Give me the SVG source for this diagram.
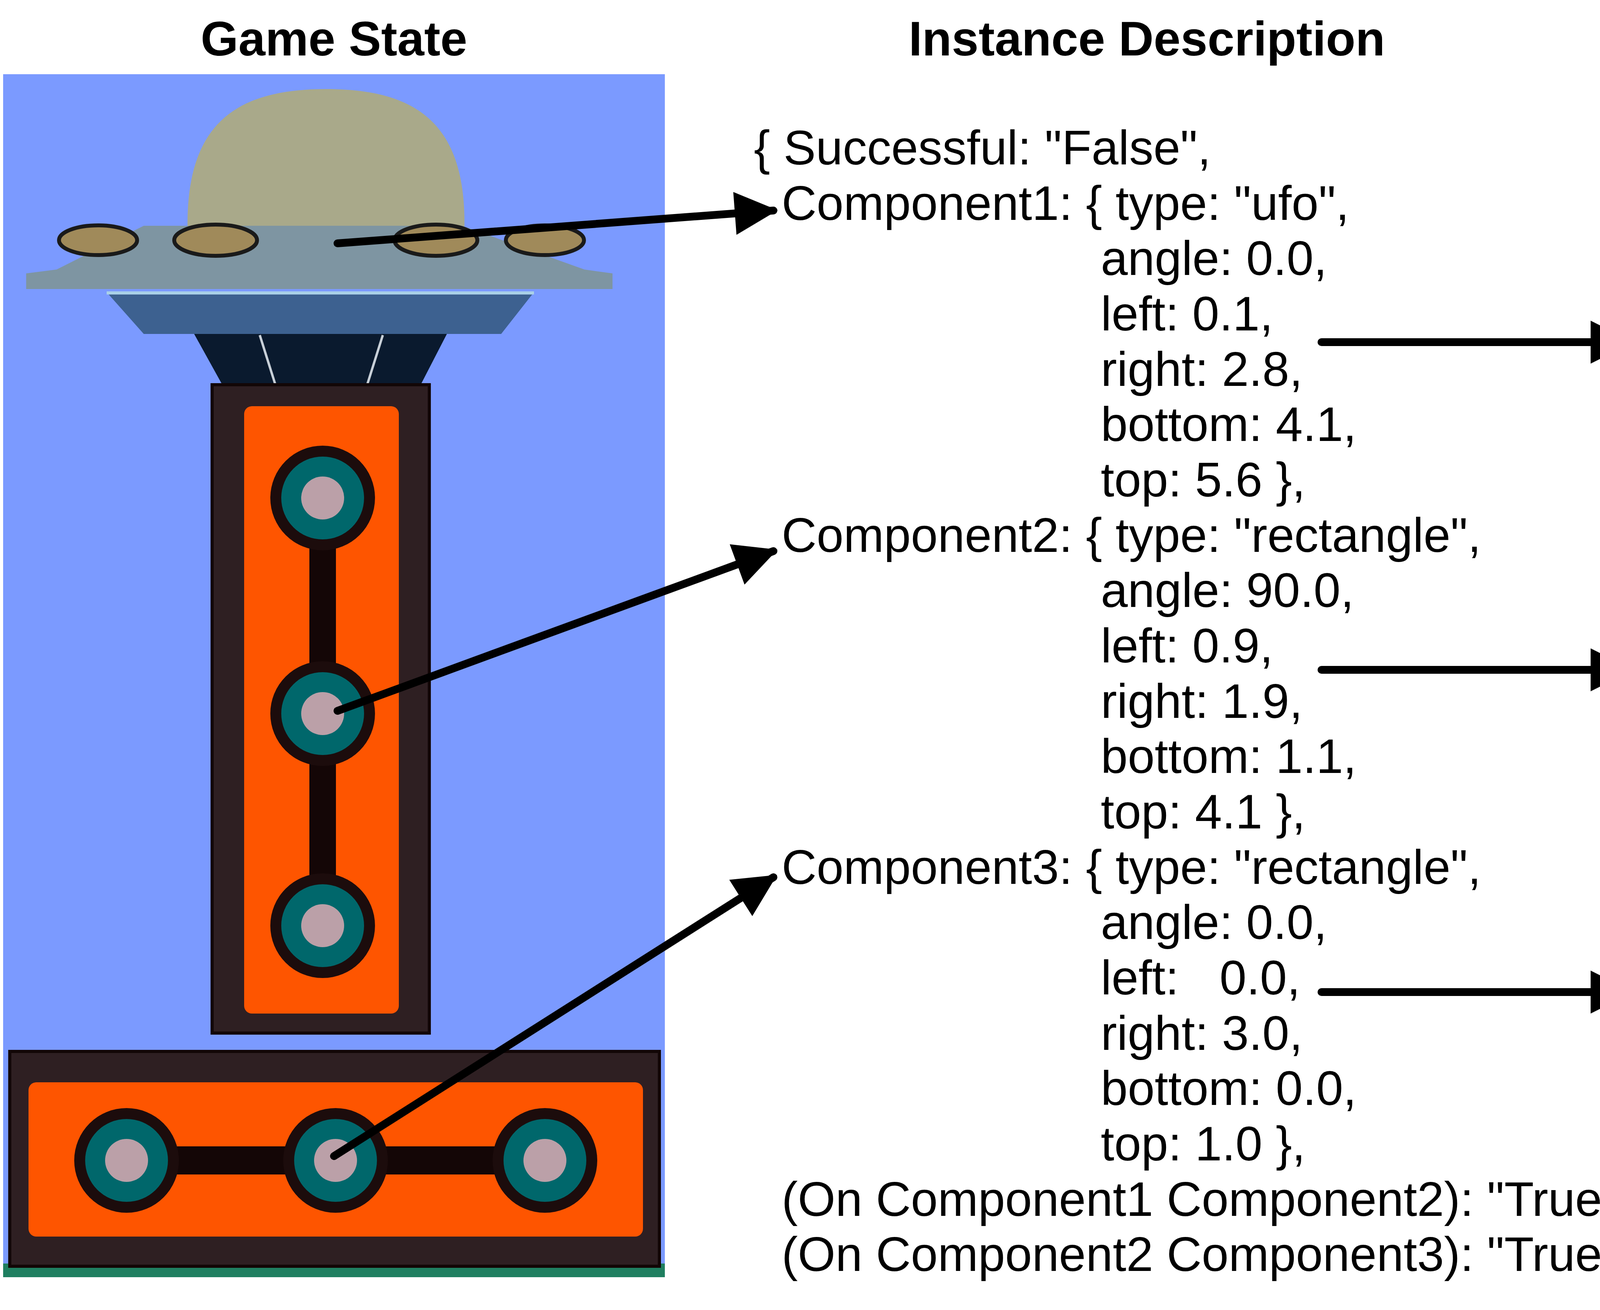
<svg xmlns="http://www.w3.org/2000/svg" width="6604" height="3354" viewBox="0 0 6604 3354">
<style>
.t{font-family:"Liberation Sans",Arial,sans-serif;font-size:124px;fill:#000;white-space:pre}
.h{font-family:"Liberation Sans",Arial,sans-serif;font-size:124px;font-weight:bold;fill:#000;text-anchor:middle}
.frame{fill:#2e1f22;stroke:#120606;stroke-width:8}
.or{fill:#fe5500}
.bar{fill:#140606}
.co{fill:#1c0c0c}
.ci{fill:#00676b}
.pk{fill:#dcaab3;opacity:0.85}
.ln{stroke:#000;stroke-width:20;stroke-linecap:round;fill:none}
.br{stroke:#000;stroke-width:14;fill:none}
</style>
<defs>
<marker id="ah" viewBox="0 0 10 10" refX="9" refY="5" markerWidth="7.5" markerHeight="5.5" markerUnits="strokeWidth" orient="auto"><path d="M0,0 L10,5 L0,10 Z" fill="#000"/></marker>
<g id="circ"><circle r="134" class="co"/><circle r="106" class="ci"/><circle r="55" class="pk"/></g>
</defs>
<rect width="6604" height="3354" fill="#fff"/>
<text class="h" x="855" y="142">Game State</text>
<text class="h" x="2936" y="142">Instance Description</text>
<text class="h" x="5384" y="142">Concept Description</text>

<g id="game-state">
<rect x="8" y="190" width="1694" height="3045" fill="#7b9aff"/>
<rect x="8" y="3235" width="1694" height="35" fill="#1f7f60"/>
<path d="M480,580 C478,320 600,228 835,228 C1070,228 1192,320 1189,580 Z" fill="#a9a98a"/>
<polygon points="368,578 1183,578 1496,690 1568,700 1568,740 67,740 67,700 145,690" fill="#7e95a2"/>
<g fill="#a08a5a" stroke="#1a1a1a" stroke-width="10">
<ellipse cx="251" cy="615" rx="100" ry="38"/><ellipse cx="552" cy="615" rx="106" ry="40"/><ellipse cx="1116" cy="615" rx="106" ry="40"/><ellipse cx="1395" cy="615" rx="100" ry="38"/>
</g>
<polygon points="273,748 1367,748 1283,855 368,855" fill="#3d6190"/>
<line x1="273" y1="750" x2="1367" y2="750" stroke="#a9d0e8" stroke-width="8"/>
<polygon points="497,855 1144,855 1077,985 569,985" fill="#0a1a2e"/>
<line x1="665" y1="858" x2="705" y2="985" stroke="#c8d0d8" stroke-width="6"/>
<line x1="980" y1="858" x2="940" y2="985" stroke="#c8d0d8" stroke-width="6"/>
<g id="component2">
<rect x="543" y="985" width="556" height="1660" class="frame"/>
<rect x="625" y="1040" width="396" height="1555" rx="20" class="or"/>
<rect x="792" y="1275" width="68" height="1095" class="bar"/>
<use href="#circ" x="826" y="1275"/><use href="#circ" x="826" y="1827"/><use href="#circ" x="826" y="2370"/>
</g>
<g id="component3">
<rect x="25" y="2692" width="1663" height="550" class="frame"/>
<rect x="73" y="2771" width="1573" height="395" rx="20" class="or"/>
<rect x="324" y="2935" width="1071" height="72" class="bar"/>
<use href="#circ" x="324" y="2971"/><use href="#circ" x="859" y="2971"/><use href="#circ" x="1395" y="2971"/>
</g>
</g>

<g id="instance">
<text class="t" x="1930" y="421">{ Successful: "False",</text>
<text class="t" x="2001" y="563">Component1: { type: "ufo",</text>
<text class="t" x="2818" y="704">angle: 0.0,</text>
<text class="t" x="2818" y="846">left: 0.1,</text>
<text class="t" x="2818" y="988">right: 2.8,</text>
<text class="t" x="2818" y="1129">bottom: 4.1,</text>
<text class="t" x="2818" y="1271">top: 5.6 },</text>
<text class="t" x="2001" y="1413">Component2: { type: "rectangle",</text>
<text class="t" x="2818" y="1554">angle: 90.0,</text>
<text class="t" x="2818" y="1696">left: 0.9,</text>
<text class="t" x="2818" y="1838">right: 1.9,</text>
<text class="t" x="2818" y="1979">bottom: 1.1,</text>
<text class="t" x="2818" y="2121">top: 4.1 },</text>
<text class="t" x="2001" y="2263">Component3: { type: "rectangle",</text>
<text class="t" x="2818" y="2404">angle: 0.0,</text>
<text class="t" x="2818" y="2546">left:</text><text class="t" x="3122" y="2546">0.0,</text>
<text class="t" x="2818" y="2688">right: 3.0,</text>
<text class="t" x="2818" y="2829">bottom: 0.0,</text>
<text class="t" x="2818" y="2971">top: 1.0 },</text>
<text class="t" x="2001" y="3113">(On Component1 Component2): "True",</text>
<text class="t" x="2001" y="3254">(On Component2 Component3): "True"}</text>
</g>

<g id="concept">
<text class="t" x="4183" y="312">{ # instances = 10,</text>
<text class="t" x="4213" y="454">P(Successful) = {"False": 7/10, "True": 3/10},</text>
<text class="t" x="4213" y="595">P(C4.type) = {"ufo": 10/10},</text>
<text class="t" x="4213" y="737">P(C4.angle) ~ N(0.0, 0.1),</text>
<text class="t" x="4213" y="878">P(C4.left) ~ N(0.1, 0.2),</text>
<text class="t" x="4213" y="1020">P(C4.right) ~ N(2.8, 0.2),</text>
<text class="t" x="4213" y="1162">P(C4.bottom) ~ N(4.1, 0.1),</text>
<text class="t" x="4213" y="1303">P(C4.top) ~ N(5.6, 0.1),</text>
<text class="t" x="4213" y="1445">P(C8.type) = {"rectangle": 10/10},</text>
<text class="t" x="4213" y="1586">P(C8.angle) ~ N(90.0,0.1),</text>
<text class="t" x="4213" y="1728">P(C8.left) ~ N(0.9, 0.3),</text>
<text class="t" x="4213" y="1870">P(C8.right) ~ N(1.9, 0.3),</text>
<text class="t" x="4213" y="2011">P(C8.bottom) ~ N(1.1, 0.1),</text>
<text class="t" x="4213" y="2153">P(C8.top) ~ N(4.1, 0.1),</text>
<text class="t" x="4213" y="2294">P(C1.type) = {"rectangle": 10/10},</text>
<text class="t" x="4213" y="2436">P(C1.angle) ~ N(0.0, 0.1),</text>
<text class="t" x="4213" y="2578">P(C1.left) ~ N(0.0, 0.2),</text>
<text class="t" x="4213" y="2719">P(C1.right) ~ N(3.0, 0.2),</text>
<text class="t" x="4213" y="2861">P(C1.bottom) ~ N(0.0, 0.1),</text>
<text class="t" x="4213" y="3002">P(C1.top) ~ N(1.0, 0.1),</text>
<text class="t" x="4213" y="3144">P((On C4 C8)) = {"True": 10/10},</text>
<text class="t" x="4213" y="3286">P((On C8 C1)) = {"True": 10/10}}</text>
</g>

<g id="connectors">
<line class="ln" x1="864" y1="623" x2="1980" y2="539" marker-end="url(#ah)"/>
<line class="ln" x1="864" y1="1820" x2="1980" y2="1411" marker-end="url(#ah)"/>
<line class="ln" x1="855" y1="2960" x2="1980" y2="2246" marker-end="url(#ah)"/>
<line class="ln" x1="3383" y1="876" x2="4171" y2="876" marker-end="url(#ah)"/>
<line class="ln" x1="3383" y1="1715" x2="4171" y2="1715" marker-end="url(#ah)"/>
<line class="ln" x1="3383" y1="2540" x2="4171" y2="2540" marker-end="url(#ah)"/>
<path class="br" d="M4255,505 H4183 V1297 H4255"/>
<path class="br" d="M4255,1340 H4183 V2128 H4255"/>
<path class="br" d="M4255,2161 H4183 V2950 H4255"/>
</g>
</svg>
